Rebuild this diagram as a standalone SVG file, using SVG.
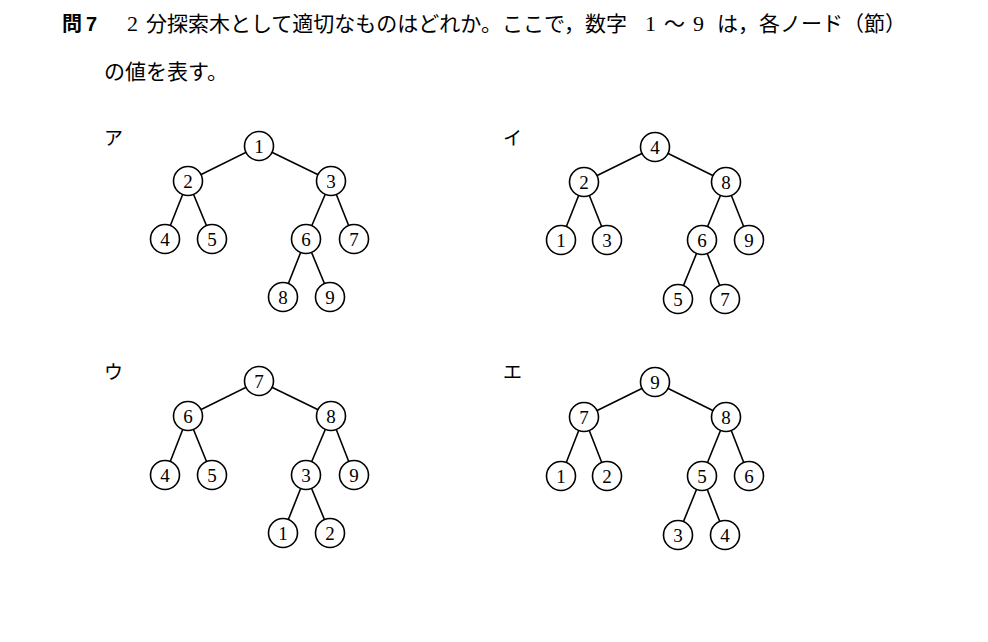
<svg xmlns="http://www.w3.org/2000/svg" width="988" height="642" viewBox="0 0 988 642">
<style>
.bg{fill:#ffffff}
.jp{font-family:"Noto Sans CJK JP","Noto Sans CJK SC",sans-serif;font-size:21px;fill:#000}
.jpb{font-family:"Noto Sans CJK JP",sans-serif;font-size:20px;font-weight:bold;fill:#000}
.nb{font-family:"Liberation Sans",sans-serif;font-size:20px;font-weight:bold;fill:#000}
.num{font-family:"Liberation Serif",serif;font-size:22px;fill:#000}
.lbl{font-family:"Noto Sans CJK JP",sans-serif;font-size:19px;fill:#000}
.edge{stroke:#000;stroke-width:1.6;fill:none}
.node circle{fill:#fff;stroke:#000;stroke-width:1.6}
.node text{font-family:"Liberation Serif",serif;font-size:19px;fill:#000;text-anchor:middle}
</style>
<rect class="bg" x="0" y="0" width="988" height="642"/>
<g id="question">
<text class="jpb" x="62" y="31">問</text>
<text class="nb" x="86" y="31">7</text>
<text class="num" x="127" y="31">2</text>
<text class="jp" x="146" y="31">分探索木として適切なものはどれか。ここで，数字</text>
<text class="num" x="645" y="31">1</text>
<text class="jp" x="664" y="31">～</text>
<text class="num" x="693" y="31">9</text>
<text class="jp" x="717" y="31">は，各ノード（節）</text>
<text class="jp" x="104" y="79">の値を表す。</text>
</g>
<g id="labels">
<text class="lbl" x="104" y="145">ア</text>
<text class="lbl" x="503" y="145">イ</text>
<text class="lbl" x="104" y="379">ウ</text>
<text class="lbl" x="503" y="379">エ</text>
</g>
<g id="connectors">
<line class="edge" x1="259" y1="146" x2="188" y2="181"/>
<line class="edge" x1="259" y1="146" x2="331" y2="181"/>
<line class="edge" x1="188" y1="181" x2="165" y2="239"/>
<line class="edge" x1="188" y1="181" x2="212" y2="239"/>
<line class="edge" x1="331" y1="181" x2="306" y2="239"/>
<line class="edge" x1="331" y1="181" x2="354" y2="239"/>
<line class="edge" x1="306" y1="239" x2="283" y2="297"/>
<line class="edge" x1="306" y1="239" x2="330" y2="297"/>
<line class="edge" x1="655" y1="147" x2="584" y2="182"/>
<line class="edge" x1="655" y1="147" x2="726" y2="182"/>
<line class="edge" x1="584" y1="182" x2="561" y2="240"/>
<line class="edge" x1="584" y1="182" x2="607" y2="240"/>
<line class="edge" x1="726" y1="182" x2="702" y2="240"/>
<line class="edge" x1="726" y1="182" x2="749" y2="240"/>
<line class="edge" x1="702" y1="240" x2="678" y2="299"/>
<line class="edge" x1="702" y1="240" x2="725" y2="299"/>
<line class="edge" x1="259" y1="381" x2="188" y2="416"/>
<line class="edge" x1="259" y1="381" x2="331" y2="416"/>
<line class="edge" x1="188" y1="416" x2="165" y2="475"/>
<line class="edge" x1="188" y1="416" x2="212" y2="475"/>
<line class="edge" x1="331" y1="416" x2="306" y2="475"/>
<line class="edge" x1="331" y1="416" x2="354" y2="475"/>
<line class="edge" x1="306" y1="475" x2="283" y2="533"/>
<line class="edge" x1="306" y1="475" x2="330" y2="533"/>
<line class="edge" x1="655" y1="382" x2="584" y2="417"/>
<line class="edge" x1="655" y1="382" x2="726" y2="417"/>
<line class="edge" x1="584" y1="417" x2="561" y2="476"/>
<line class="edge" x1="584" y1="417" x2="607" y2="476"/>
<line class="edge" x1="726" y1="417" x2="702" y2="476"/>
<line class="edge" x1="726" y1="417" x2="749" y2="476"/>
<line class="edge" x1="702" y1="476" x2="678" y2="535"/>
<line class="edge" x1="702" y1="476" x2="725" y2="535"/>
</g>
<g id="a1" class="node"><circle cx="259" cy="146" r="14.5"/><text x="259" y="152.5">1</text></g>
<g id="a2" class="node"><circle cx="188" cy="181" r="14.5"/><text x="188" y="187.5">2</text></g>
<g id="a3" class="node"><circle cx="331" cy="181" r="14.5"/><text x="331" y="187.5">3</text></g>
<g id="a4" class="node"><circle cx="165" cy="239" r="14.5"/><text x="165" y="245.5">4</text></g>
<g id="a5" class="node"><circle cx="212" cy="239" r="14.5"/><text x="212" y="245.5">5</text></g>
<g id="a6" class="node"><circle cx="306" cy="239" r="14.5"/><text x="306" y="245.5">6</text></g>
<g id="a7" class="node"><circle cx="354" cy="239" r="14.5"/><text x="354" y="245.5">7</text></g>
<g id="a8" class="node"><circle cx="283" cy="297" r="14.5"/><text x="283" y="303.5">8</text></g>
<g id="a9" class="node"><circle cx="330" cy="297" r="14.5"/><text x="330" y="303.5">9</text></g>
<g id="i4" class="node"><circle cx="655" cy="147" r="14.5"/><text x="655" y="153.5">4</text></g>
<g id="i2" class="node"><circle cx="584" cy="182" r="14.5"/><text x="584" y="188.5">2</text></g>
<g id="i8" class="node"><circle cx="726" cy="182" r="14.5"/><text x="726" y="188.5">8</text></g>
<g id="i1" class="node"><circle cx="561" cy="240" r="14.5"/><text x="561" y="246.5">1</text></g>
<g id="i3" class="node"><circle cx="607" cy="240" r="14.5"/><text x="607" y="246.5">3</text></g>
<g id="i6" class="node"><circle cx="702" cy="240" r="14.5"/><text x="702" y="246.5">6</text></g>
<g id="i9" class="node"><circle cx="749" cy="240" r="14.5"/><text x="749" y="246.5">9</text></g>
<g id="i5" class="node"><circle cx="678" cy="299" r="14.5"/><text x="678" y="305.5">5</text></g>
<g id="i7" class="node"><circle cx="725" cy="299" r="14.5"/><text x="725" y="305.5">7</text></g>
<g id="u7" class="node"><circle cx="259" cy="381" r="14.5"/><text x="259" y="387.5">7</text></g>
<g id="u6" class="node"><circle cx="188" cy="416" r="14.5"/><text x="188" y="422.5">6</text></g>
<g id="u8" class="node"><circle cx="331" cy="416" r="14.5"/><text x="331" y="422.5">8</text></g>
<g id="u4" class="node"><circle cx="165" cy="475" r="14.5"/><text x="165" y="481.5">4</text></g>
<g id="u5" class="node"><circle cx="212" cy="475" r="14.5"/><text x="212" y="481.5">5</text></g>
<g id="u3" class="node"><circle cx="306" cy="475" r="14.5"/><text x="306" y="481.5">3</text></g>
<g id="u9" class="node"><circle cx="354" cy="475" r="14.5"/><text x="354" y="481.5">9</text></g>
<g id="u1" class="node"><circle cx="283" cy="533" r="14.5"/><text x="283" y="539.5">1</text></g>
<g id="u2" class="node"><circle cx="330" cy="533" r="14.5"/><text x="330" y="539.5">2</text></g>
<g id="e9" class="node"><circle cx="655" cy="382" r="14.5"/><text x="655" y="388.5">9</text></g>
<g id="e7" class="node"><circle cx="584" cy="417" r="14.5"/><text x="584" y="423.5">7</text></g>
<g id="e8" class="node"><circle cx="726" cy="417" r="14.5"/><text x="726" y="423.5">8</text></g>
<g id="e1" class="node"><circle cx="561" cy="476" r="14.5"/><text x="561" y="482.5">1</text></g>
<g id="e2" class="node"><circle cx="607" cy="476" r="14.5"/><text x="607" y="482.5">2</text></g>
<g id="e5" class="node"><circle cx="702" cy="476" r="14.5"/><text x="702" y="482.5">5</text></g>
<g id="e6" class="node"><circle cx="749" cy="476" r="14.5"/><text x="749" y="482.5">6</text></g>
<g id="e3" class="node"><circle cx="678" cy="535" r="14.5"/><text x="678" y="541.5">3</text></g>
<g id="e4" class="node"><circle cx="725" cy="535" r="14.5"/><text x="725" y="541.5">4</text></g>
</svg>
